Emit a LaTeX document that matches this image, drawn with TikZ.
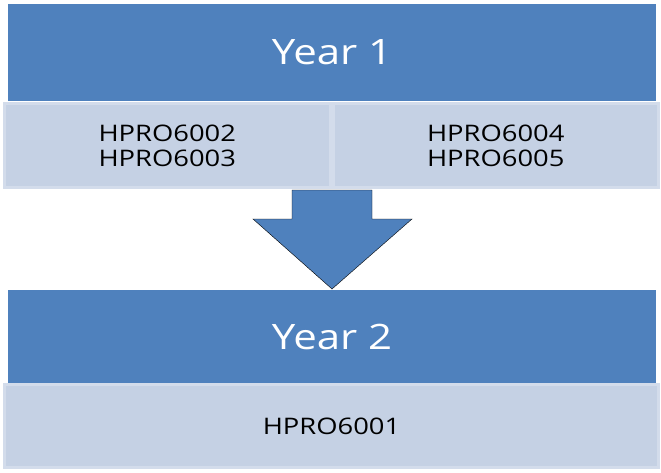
\documentclass[tikz,border=0pt]{standalone}
\usepackage{fontspec}
\setmainfont{Open Sans}[FakeStretch=1.2]
\usepackage{xcolor}
\usepackage{tikz}
\usetikzlibrary{positioning}

\definecolor{yearblue}{HTML}{4F81BD}
\definecolor{coursefill}{HTML}{C5D1E4}
\definecolor{courseedge}{HTML}{D3DCEB}

\begin{document}
\begin{tikzpicture}[
    x=1pt, y=-1pt,
    node distance=0pt,
    yearbox/.style={
        fill=yearblue, text=white, inner sep=0pt,
        minimum width=648pt, font=\fontsize{35}{40}\selectfont,
    },
    course/.style={
        fill=coursefill, draw=courseedge, line width=3pt, inner sep=0pt,
        align=center, font=\fontsize{22.8}{25}\selectfont,
    },
    bigarrow/.style={fill=yearblue},
]
\useasboundingbox (0,0) rectangle (661,472);

\node[yearbox, minimum height=97pt] (year1) at (332,52.5) {Year 1};
\node[course, minimum width=325.5pt, minimum height=84pt] (firstA) at (167.25,145.5) {HPRO6002\\HPRO6003};
\node[course, minimum width=325.5pt, minimum height=84pt, right=0pt of firstA] (firstB) {HPRO6004\\HPRO6005};

% block arrow between the years
\draw[bigarrow] (292,190) -- (372,190) -- (372,219) -- (412,219) -- (332,289)
    -- (253,219) -- (292,219) -- cycle;

\node[yearbox, minimum height=93pt] (year2) at (332,336.5) {Year 2};
\node[course, minimum width=654pt, minimum height=83pt] (second) at (331.5,426) {HPRO6001};

\end{tikzpicture}
\end{document}
